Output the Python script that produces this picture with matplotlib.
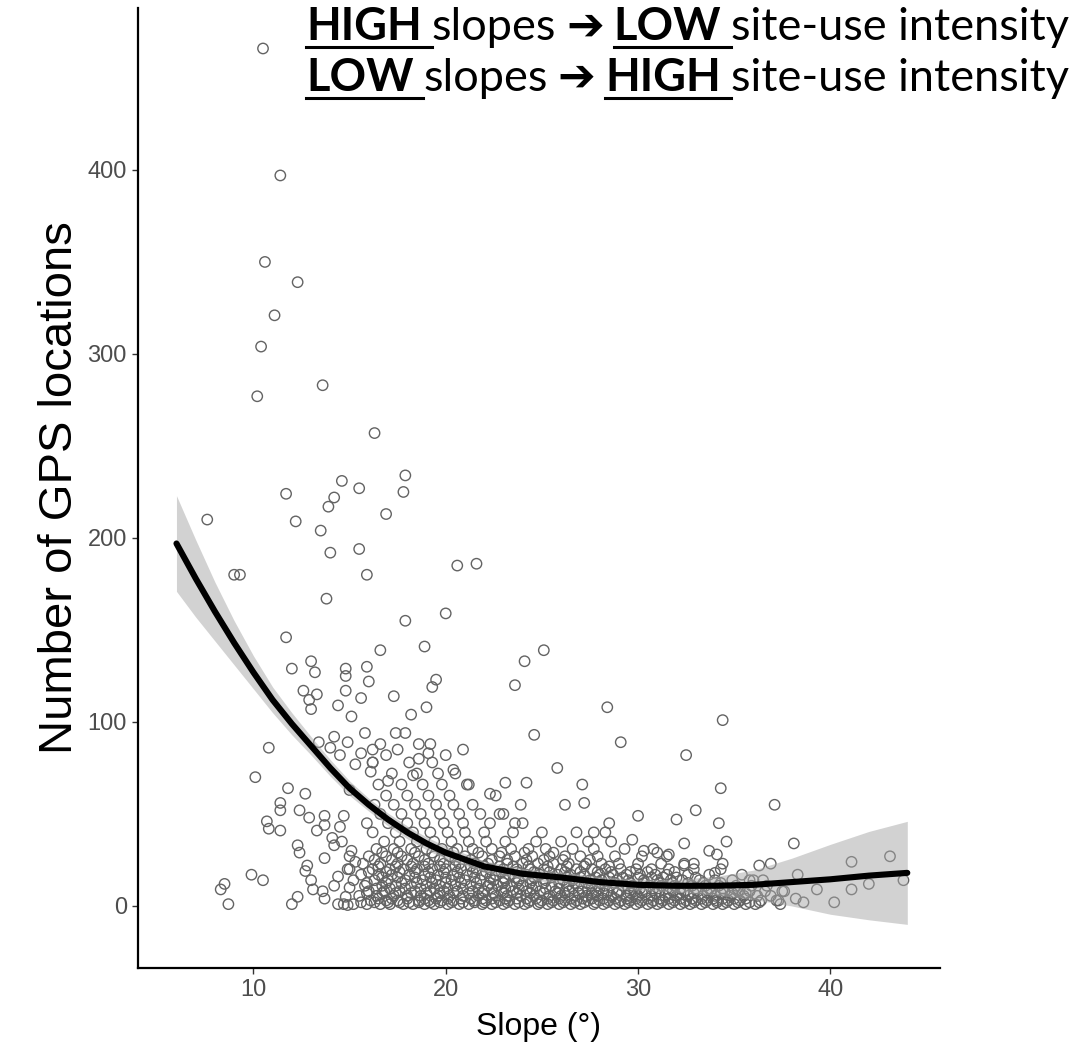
import matplotlib
matplotlib.use("Agg")
import matplotlib.pyplot as plt
from matplotlib.lines import Line2D
import numpy as np

W, H = 1088, 1060

plt.rcParams["font.family"] = ["Liberation Sans", "DejaVu Sans"]

# sparse high counts, read point by point
high_x = [10.5, 11.4, 10.6, 12.3, 11.1, 10.4, 10.2, 13.6, 16.3, 11.7, 14.6, 15.5, 17.9, 17.8,
          14.2, 13.9, 16.9, 7.6, 12.2, 13.5, 14.0, 15.5, 15.9, 9.0, 9.3, 20.6, 21.6, 13.8,
          17.9, 20.0, 11.7, 16.6, 18.9, 24.1, 25.1, 23.6]
high_y = [466, 397, 350, 339, 321, 304, 277, 283, 257, 224, 231, 227, 234, 225,
          222, 217, 213, 210, 209, 204, 192, 194, 180, 180, 180, 185, 186, 167,
          155, 159, 146, 139, 141, 133, 139, 120]

# middle band, 50-135 locations
mid_x = [13.0, 12.0, 13.2, 14.8, 14.8, 15.9, 16.0, 19.5, 19.3, 12.6, 13.3, 12.9, 13.0, 14.8,
         15.6, 14.4, 17.3, 15.1, 18.2, 19.0, 24.6, 10.8, 15.8, 17.4, 17.9, 13.4, 14.2, 14.9,
         14.0, 14.5, 15.6, 16.2, 16.6, 16.9, 17.5, 18.6, 19.2, 19.1, 18.6, 20.0, 20.9, 15.3,
         16.2, 10.1, 28.4, 34.4, 29.1, 32.5, 25.8, 34.3, 37.1, 30.0, 32.0, 33.0, 34.2, 28.5,
         22.3, 23.1, 24.2, 27.1, 26.2, 27.2, 23.9, 23.6, 22.8, 28.3, 27.7, 11.8, 12.7, 11.4,
         11.4, 12.4, 12.9, 13.7, 15.0, 14.7, 16.1, 17.0, 18.3, 20.4, 21.2]
mid_y = [133, 129, 127, 129, 125, 130, 122, 123, 119, 117, 115, 112, 107, 117,
         113, 109, 114, 103, 104, 108, 93, 86, 94, 94, 94, 89, 92, 89,
         86, 82, 83, 85, 88, 82, 85, 88, 88, 83, 80, 82, 85, 77,
         78, 70, 108, 101, 89, 82, 75, 64, 55, 49, 47, 52, 45, 45,
         61, 67, 67, 66, 55, 56, 55, 45, 50, 40, 40, 64, 61, 56,
         52, 52, 48, 49, 63, 49, 73, 68, 71, 74, 66]

# low slopes and the right-hand tail
edge_x = [8.5, 8.3, 8.7, 9.9, 10.5, 10.7, 10.8, 11.4, 13.7, 13.3, 12.3, 12.4, 12.8, 12.7,
          13.7, 14.1, 14.2, 13.0, 13.1, 12.3, 12.0, 13.6, 13.7, 14.4, 14.7, 14.9, 15.0, 15.0,
          14.4, 14.2, 14.5, 14.8, 15.0, 15.2, 14.9, 15.3, 15.1, 14.6,
          41.1, 43.1, 43.8, 41.1, 42.0, 40.2, 39.3, 38.3, 36.9, 36.3, 38.6, 37.4, 38.2, 37.2,
          37.6, 29.7, 30.3, 31.0, 31.6, 32.4, 32.9, 33.7, 34.1, 34.4, 34.0, 35.8, 36.5, 38.1,
          34.6, 32.4]
edge_y = [12, 9, 1, 17, 14, 46, 42, 41, 44, 41, 33, 29, 22, 19,
          26, 37, 33, 14, 9, 5, 1, 8, 4, 1, 1, 0.5, 27, 20,
          16, 11, 43, 5, 10, 14, 20, 24, 30, 35,
          24, 27, 14, 9, 12, 2, 9, 17, 23, 22, 2, 1, 4, 3,
          8, 36, 30, 29, 28, 22, 23, 30, 28, 23, 18, 14, 14, 34,
          35, 34]

# dense cloud under the curve, row by row
core_x = [
    15.2, 15.9, 16.6, 17.1, 17.8, 18.3, 18.9, 19.4, 20.1, 20.7, 21.2, 21.9, 22.4, 23.0, 23.6,
    24.1, 24.8, 25.3, 25.9, 26.5, 27.0, 27.7, 28.2, 28.8, 29.3, 29.9, 30.5, 31.0, 31.6, 32.2,
    32.7, 33.3, 33.9, 34.4, 35.0, 35.6, 36.1,
    16.1, 16.9, 17.5, 18.6, 19.1, 19.8, 20.4, 21.5, 22.1, 22.8, 23.3, 24.4, 25.0, 25.6, 26.2,
    26.8, 27.4, 28.0, 28.5, 29.1, 29.6, 30.2, 30.8, 31.3, 31.9, 32.5, 33.0, 33.6, 34.1, 34.7,
    35.3, 36.4, 37.3,
    15.5, 16.4, 17.3, 18.0, 18.7, 19.6, 20.2, 20.9, 21.7, 22.6, 23.2, 23.9, 24.6, 25.4, 26.0,
    26.7, 27.3, 27.9, 28.6, 29.4, 30.0, 30.7, 31.4, 32.0, 32.6, 33.4, 34.0, 34.8, 35.5, 36.2,
    36.9,
    16.0, 16.8, 17.6, 18.4, 19.2, 19.9, 20.6, 21.4, 22.0, 22.9, 23.5, 24.2, 24.9, 25.7, 26.4,
    27.1, 27.8, 28.4, 29.0, 29.8, 30.4, 31.1, 31.8, 32.4, 33.1, 33.8, 34.5, 35.2, 35.8, 36.6,
    37.5,
    15.8, 16.7, 17.4, 18.2, 19.0, 19.7, 20.5, 21.3, 22.2, 22.7, 23.4, 24.0, 24.7, 25.5, 26.3,
    26.9, 27.6, 28.3, 29.2, 29.7, 30.6, 31.2, 31.9, 32.8, 33.5, 34.2, 35.1, 35.9, 36.7,
    16.3, 17.0, 17.9, 18.8, 19.5, 20.3, 21.0, 21.8, 22.5, 23.1, 23.8, 24.5, 25.2, 26.1, 26.6,
    27.5, 28.1, 28.9, 29.5, 30.3, 31.0, 31.7, 32.3, 33.2, 34.0, 34.9, 36.0,
    15.6, 16.5, 17.2, 18.1, 18.9, 19.6, 20.4, 21.1, 21.9, 22.6, 23.3, 24.2, 24.9, 25.8, 26.5,
    27.2, 28.0, 28.7, 29.4, 30.1, 30.9, 31.5, 32.6, 33.7, 35.4,
    16.2, 17.1, 17.8, 18.5, 19.3, 20.0, 20.8, 21.6, 22.3, 23.0, 23.7, 24.4, 25.1, 26.0, 26.8,
    27.6, 28.3, 29.1, 29.9, 30.7, 31.6, 32.9, 34.3,
    15.7, 16.6, 17.5, 18.3, 19.1, 19.9, 20.7, 21.5, 22.2, 23.2, 24.0, 24.8, 25.6, 26.4, 27.3,
    28.1, 29.0, 30.0, 31.2, 32.4,
    16.0, 16.9, 17.7, 18.6, 19.4, 20.2, 21.0, 21.9, 22.8, 23.6, 24.5, 25.4, 26.2, 27.0, 27.9,
    28.8, 30.2, 31.5,
    16.4, 17.3, 18.2, 19.0, 19.8, 20.6, 21.4, 22.4, 23.4, 24.3, 25.2, 26.6, 27.7, 29.3, 30.8,
    16.8, 17.6, 18.5, 19.4, 20.3, 21.2, 22.1, 23.1, 24.7, 26.0, 27.4, 28.6,
    16.2, 17.4, 18.3, 19.2, 20.1, 21.0, 22.0, 23.5, 25.0, 26.8,
    15.9, 17.0, 18.0, 18.9, 19.9, 20.9, 22.3, 24.0,
    16.6, 17.7, 18.7, 19.7, 20.7, 21.8, 23.0,
    16.3, 17.3, 18.4, 19.5, 20.4, 21.4,
    16.9, 18.0, 19.1, 20.2, 22.6,
    16.5, 17.7, 18.8, 19.8, 21.1,
    17.2, 18.5, 19.6, 20.5,
    16.2, 18.1, 19.3,
]
core_y = (
    [1] * 37 + [3] * 33 + [5.5] * 31 + [8] * 31 + [11] * 29 + [14] * 27 + [17] * 25
    + [20] * 23 + [23] * 20 + [27] * 18 + [31] * 15 + [35] * 12 + [40] * 10 + [45] * 8
    + [50] * 7 + [55] * 6 + [60] * 5 + [66] * 5 + [72] * 4 + [78] * 3
)

# second pass over the densest part, between the rows above
fill_x = [
    15.6, 16.3, 17.0, 17.6, 18.1, 18.6, 19.2, 19.7, 20.3, 20.9, 21.5, 22.0, 22.6, 23.2, 23.8,
    24.3, 24.9, 25.5, 26.1, 26.7, 27.2, 27.8, 28.4, 29.0, 29.5, 30.1, 30.7, 31.2, 31.8, 32.4,
    32.9, 33.5, 34.1, 34.6, 35.2, 35.8, 36.3,
    16.5, 17.2, 18.0, 18.9, 19.5, 20.1, 20.8, 21.3, 21.9, 22.4, 23.1, 23.7, 24.2, 24.7, 25.3,
    25.9, 26.5, 27.1, 27.6, 28.2, 28.8, 29.4, 29.9, 30.5, 31.1, 31.6, 32.2, 32.8, 33.3, 33.9,
    34.4, 35.0, 35.6,
    15.9, 16.7, 17.4, 18.2, 19.0, 19.7, 20.4, 21.2, 21.9, 22.5, 23.0, 23.7, 24.4, 25.1, 25.8,
    26.2, 26.9, 27.6, 28.2, 28.9, 29.6, 30.2, 30.9, 31.6, 32.2, 32.9, 33.6, 34.3, 34.9, 35.6,
    16.4, 17.1, 17.9, 18.7, 19.4, 20.1, 20.9, 21.7, 22.4, 23.1, 23.8, 24.5, 25.2, 25.9, 26.6,
    27.4, 28.0, 28.7, 29.5, 30.1, 30.8, 31.5, 32.2, 33.0, 33.7, 34.4, 35.0,
    15.9, 16.9, 17.7, 18.5, 19.3, 20.0, 20.8, 21.6, 22.3, 23.0, 23.7, 24.4, 25.1, 25.9, 26.7,
    27.3, 28.0, 28.8, 29.6, 30.3, 31.1, 31.8, 32.6, 33.4, 34.3,
    16.7, 17.5, 18.4, 19.2, 20.0, 20.7, 21.5, 22.3, 23.0, 23.6, 24.6, 25.5, 26.3, 27.0, 27.8,
    28.5, 29.2, 30.0, 30.7, 31.3, 32.0, 33.0,
    16.0, 16.9, 17.6, 18.4, 19.1, 19.9, 20.6, 21.4, 22.1, 22.9, 23.7, 24.6, 25.4, 26.2, 27.0,
    27.9, 28.6, 29.6, 30.5, 31.9,
    16.5, 17.4, 18.2, 18.9, 19.7, 20.5, 21.3, 22.0, 22.8, 23.5, 24.3, 25.3, 26.3, 27.2, 28.5,
    16.3, 17.2, 18.0, 18.9, 19.7, 20.5, 21.3, 22.4, 23.2, 24.2, 25.1, 26.1, 27.5,
    16.7, 17.5, 18.4, 19.3, 20.4, 21.7, 22.9, 24.1, 25.6,
]
fill_y = (
    [2] * 37 + [4] * 33 + [7] * 30 + [9.5] * 27 + [12.5] * 25 + [15.5] * 22 + [18.5] * 20
    + [21.5] * 15 + [25] * 13 + [29] * 9
)

# loess fit with its confidence band
smooth_x = [6, 7, 8, 9, 10, 11, 12, 13, 14, 15, 16, 17, 18, 19, 20, 22, 24, 26, 28, 30,
            32, 34, 36, 38, 40, 42, 44]
smooth_y = [197, 178, 160, 143, 127, 112, 99, 87, 75, 64, 55, 47, 40, 34, 29, 21.5, 17.5,
            15.5, 13, 11.5, 11, 11, 11.5, 13, 14.5, 16.5, 18]
smooth_se = [26, 21, 16, 12, 9, 7, 6, 5, 4.5, 4, 3.5, 3.5, 3.5, 3.5, 3.5, 3, 3, 3, 3, 3,
             3.5, 5, 8, 13, 19, 24, 28]

slope = np.array(high_x + mid_x + edge_x + core_x + fill_x)
gps = np.array(high_y + mid_y + edge_y + core_y + fill_y, dtype=float)

fig = plt.figure(figsize=(W / 100, H / 100), dpi=100)
ax = fig.add_axes([138 / W, 1 - 968 / H, (940 - 138) / W, (968 - 8) / H])

ax.scatter(slope, gps, s=56, facecolors="none", edgecolors="#636363", linewidths=1.0, zorder=2)

sx = np.array(smooth_x, dtype=float)
sy = np.array(smooth_y)
se = np.array(smooth_se)
ax.fill_between(sx, sy - se, sy + se, color="#a6a6a6", alpha=0.5, lw=0, zorder=3)
ax.plot(sx, sy, color="black", lw=4.4, solid_capstyle="round", zorder=4)

ax.set_xlim(4.0, 45.7)
ax.set_ylim(-33.7, 488)
ax.set_xticks([10, 20, 30, 40])
ax.set_yticks([0, 100, 200, 300, 400])
for side in ["top", "right"]:
    ax.spines[side].set_visible(False)
for side in ["left", "bottom"]:
    ax.spines[side].set_linewidth(1.6)
    ax.spines[side].set_color("black")
ax.tick_params(direction="out", length=4, width=1, color="#333333", labelcolor="#4d4d4d",
               labelsize=17, pad=4)
ax.set_xlabel("Slope (°)", fontsize=23, labelpad=8)
ax.set_ylabel("Number of GPS locations", fontsize=34, labelpad=4)

# headline with underlined keywords
renderer = fig.canvas.get_renderer()
FS = 32.5
gap = 0.22 * FS * 100 / 72


def headline(y_px, parts):
    x = 306
    for s, bold, underline in parts:
        if s == " ":
            x += gap
            continue
        t = fig.text(x / W, 1 - y_px / H, s, fontsize=FS,
                     fontweight="bold" if bold else "normal",
                     family=["Lato", "DejaVu Sans"], va="baseline", ha="left")
        bb = t.get_window_extent(renderer)
        if underline:
            fig.add_artist(Line2D([bb.x0 / W, (bb.x1 + gap) / W], [1 - (y_px + 7) / H] * 2,
                                  transform=fig.transFigure, color="black", lw=2.2))
        x += bb.width


headline(40, [("HIGH", True, True), (" ", 0, 0), ("slopes", False, False), (" ", 0, 0),
              ("➔", True, False), (" ", 0, 0), ("LOW", True, True), (" ", 0, 0),
              ("site-use intensity", False, False)])
headline(91, [("LOW", True, True), (" ", 0, 0), ("slopes", False, False), (" ", 0, 0),
              ("➔", True, False), (" ", 0, 0), ("HIGH", True, True), (" ", 0, 0),
              ("site-use intensity", False, False)])

fig.savefig("out.png", dpi=100)
